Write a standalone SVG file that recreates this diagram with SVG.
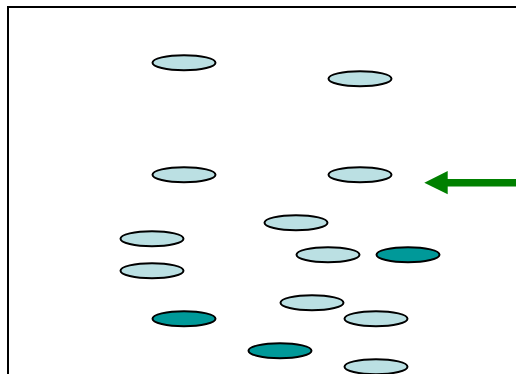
<svg xmlns="http://www.w3.org/2000/svg" width="516" height="374" viewBox="0 0 516 374">
<style>
.l{fill:#BBE0E3;stroke:#000;stroke-width:2}
.d{fill:#009999;stroke:#000;stroke-width:2}
</style>
<rect width="516" height="374" fill="#fff"/>
<path d="M8,374 V7 H516" fill="none" stroke="#000" stroke-width="2"/>
<g id="n1"><ellipse class="l" cx="184" cy="62.7" rx="31.5" ry="7.5"/></g>
<g id="n2"><ellipse class="l" cx="360" cy="78.7" rx="31.5" ry="7.5"/></g>
<g id="n3"><ellipse class="l" cx="184" cy="174.7" rx="31.5" ry="7.5"/></g>
<g id="n4"><ellipse class="l" cx="360" cy="174.7" rx="31.5" ry="7.5"/></g>
<g id="n5"><ellipse class="l" cx="296" cy="222.7" rx="31.5" ry="7.5"/></g>
<g id="n6"><ellipse class="l" cx="152" cy="238.7" rx="31.5" ry="7.5"/></g>
<g id="n7"><ellipse class="l" cx="328" cy="254.7" rx="31.5" ry="7.5"/></g>
<g id="n8"><ellipse class="d" cx="408" cy="254.7" rx="31.5" ry="7.5"/></g>
<g id="n9"><ellipse class="l" cx="152" cy="270.7" rx="31.5" ry="7.5"/></g>
<g id="n10"><ellipse class="l" cx="312" cy="302.7" rx="31.5" ry="7.5"/></g>
<g id="n11"><ellipse class="d" cx="184" cy="318.7" rx="31.5" ry="7.5"/></g>
<g id="n12"><ellipse class="l" cx="376" cy="318.7" rx="31.5" ry="7.5"/></g>
<g id="n13"><ellipse class="d" cx="280" cy="350.7" rx="31.5" ry="7.5"/></g>
<g id="n14"><ellipse class="l" cx="376" cy="366.7" rx="31.5" ry="7.5"/></g>
<g id="connectors">
<path d="M516,179 H447.7 V171 L424.3,182.7 L447.7,194.3 V186.6 H516 Z" fill="#008000"/>
</g>
</svg>
